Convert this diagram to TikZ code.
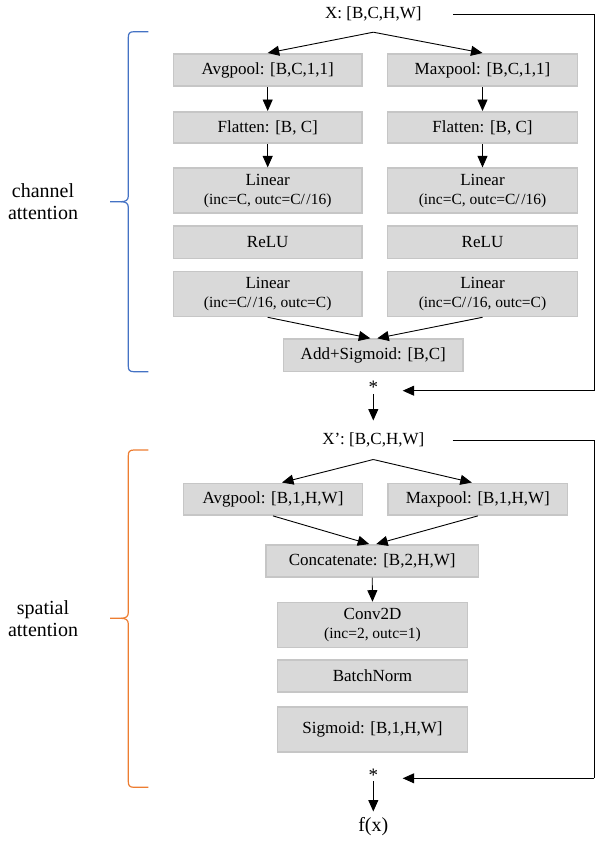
\documentclass[tikz,border=0pt]{standalone}
\usepackage{fontspec}
\setmainfont{Liberation Serif}
\usetikzlibrary{arrows.meta}
\definecolor{boxfill}{HTML}{D9D9D9}
\definecolor{boxline}{HTML}{C6C6C6}
\definecolor{braceblue}{HTML}{4472C4}
\definecolor{braceorange}{HTML}{ED7D31}
\newcommand\mainsz{\fontsize{17}{19}\selectfont}
\newcommand\subsz{\fontsize{15.5}{17}\selectfont}
\newcommand\lblsz{\fontsize{20}{22}\selectfont}
\newcommand\slsh{/\kern1.5pt/}
\tikzset{
  box/.style={draw=boxline, line width=1.6pt, fill=boxfill, inner sep=0pt, align=center, font=\mainsz},
  txt/.style={inner sep=0pt, align=center, font=\mainsz},
  startxt/.style={inner sep=0pt, font=\fontsize{19}{21}\selectfont, text height=11pt, text depth=0pt},
  lbl/.style={inner sep=0pt, align=center, font=\lblsz},
  arr/.style={line width=0.9pt, -{Triangle[length=11.5pt,width=10pt]}},
  ln/.style={line width=0.9pt},
  brace/.style={line width=1.2pt}
}
\begin{document}
\begin{tikzpicture}[x=1pt,y=-1pt]
\useasboundingbox (0,0) rectangle (595,847);

% ---- channel attention ----
\node[txt, minimum width=159.4pt, minimum height=36pt] (X) at (373.3,14) {X: [B,C,H,W]};
\node[box, minimum width=188.4pt, minimum height=32.4pt] (avg1) at (267.7,70) {Avgpool: [B,C,1,1]};
\node[box, minimum width=190pt, minimum height=32.4pt] (max1) at (482.5,70) {Maxpool: [B,C,1,1]};
\node[box, minimum width=188.4pt, minimum height=31.4pt] (fl1) at (267.7,127.5) {Flatten: [B, C]};
\node[box, minimum width=190pt, minimum height=31.4pt] (fl2) at (482.5,127.5) {Flatten: [B, C]};
\node[box, minimum width=188.4pt, minimum height=45pt] (lina1) at (267.7,190.7) {Linear\\{\subsz(inc=C, outc=C\slsh16)}};
\node[box, minimum width=190pt, minimum height=45pt] (lina2) at (482.5,190.7) {Linear\\{\subsz(inc=C, outc=C\slsh16)}};
\node[box, minimum width=188.4pt, minimum height=32.6pt] (relu1) at (267.7,242.2) {ReLU};
\node[box, minimum width=190pt, minimum height=32.6pt] (relu2) at (482.5,242.2) {ReLU};
\node[box, minimum width=188.4pt, minimum height=45pt] (linb1) at (267.7,294) {Linear\\{\subsz(inc=C\slsh16, outc=C)}};
\node[box, minimum width=190pt, minimum height=45pt] (linb2) at (482.5,294) {Linear\\{\subsz(inc=C\slsh16, outc=C)}};
\node[box, minimum width=179.7pt, minimum height=32.4pt] (add) at (373.3,355.3) {Add+Sigmoid: [B,C]};
\node[startxt] (s1) at (373.3,388.2) {*};
\coordinate (r1) at (594.3,390.7);
\coordinate (m1) at (402.7,390.7);

\draw[arr] (X.south) -- (avg1.north);
\draw[arr] (X.south) -- (max1.north);
\draw[arr] (avg1.south) -- (fl1.north);
\draw[arr] (max1.south) -- (fl2.north);
\draw[arr] (fl1.south) -- (lina1.north);
\draw[arr] (fl2.south) -- (lina2.north);
\draw[arr] (linb1.south) -- ([xshift=-3pt]add.north);
\draw[arr] (linb2.south) -- ([xshift=4pt]add.north);
\draw[ln] (X.east) -| (r1);
\draw[arr] (r1) -- (m1);

% ---- spatial attention ----
\node[txt, minimum width=158pt, minimum height=38.6pt] (Xp) at (373.3,440) {X’: [B,C,H,W]};
\draw[arr] (s1.south) -- (Xp.north);
\node[box, minimum width=179pt, minimum height=31.8pt] (avg2) at (273,499.2) {Avgpool: [B,1,H,W]};
\node[box, minimum width=179.4pt, minimum height=31.8pt] (max2) at (477.8,499.2) {Maxpool: [B,1,H,W]};
\node[box, minimum width=212.7pt, minimum height=31.9pt] (cat) at (372.2,560.8) {Concatenate: [B,2,H,W]};
\node[box, minimum width=190pt, minimum height=45pt] (conv) at (372.5,625) {Conv2D\\{\subsz(inc=2, outc=1)}};
\node[box, minimum width=190pt, minimum height=31.8pt] (bn) at (372.5,676) {BatchNorm};
\node[box, minimum width=190pt, minimum height=45pt] (sig) at (372.5,729.3) {Sigmoid: [B,1,H,W]};
\node[startxt] (s2) at (373.3,775.5) {*};
\node[inner sep=0pt, font=\lblsz, minimum height=30.6pt] (fx) at (373.3,827) {f(x)};
\coordinate (r2) at (594.3,778.3);
\coordinate (m2) at (402.7,778.3);

\draw[arr] (Xp.south) -- ([xshift=9pt]avg2.north);
\draw[arr] (Xp.south) -- ([xshift=-6pt]max2.north);
\draw[arr] (avg2.south) -- ([xshift=-3pt]cat.north);
\draw[arr] (max2.south) -- ([xshift=4pt]cat.north);
\draw[arr] (cat.south) -- (conv.north);
\draw[arr] (s2.south) -- (fx.north);
\draw[ln] (Xp.east) -| (r2);
\draw[arr] (r2) -- (m2);

% ---- braces and labels ----
\draw[brace, braceblue] (148.3,31.7) -- (134,31.7) .. controls (129.5,31.7) and (128.3,33.5) .. (128.3,37.5)
  -- (128.3,196) .. controls (128.3,200) and (126,201.7) .. (121,201.7) -- (110,201.7);
\draw[brace, braceblue] (121,201.7) .. controls (126,201.7) and (128.3,203.4) .. (128.3,207.4)
  -- (128.3,366) .. controls (128.3,370) and (129.5,371.7) .. (134,371.7) -- (148.3,371.7);
\node[lbl] (lab1) at (43,201.7) {channel\\attention};

\draw[brace, braceorange] (148.3,450) -- (134,450) .. controls (129.5,450) and (128.3,451.8) .. (128.3,455.8)
  -- (128.3,612.5) .. controls (128.3,616.5) and (126,618.3) .. (121,618.3) -- (110,618.3);
\draw[brace, braceorange] (121,618.3) .. controls (126,618.3) and (128.3,620) .. (128.3,624)
  -- (128.3,781.5) .. controls (128.3,785.5) and (129.5,787.3) .. (134,787.3) -- (148.3,787.3);
\node[lbl] (lab2) at (43,618.3) {spatial\\attention};
\end{tikzpicture}
\end{document}
